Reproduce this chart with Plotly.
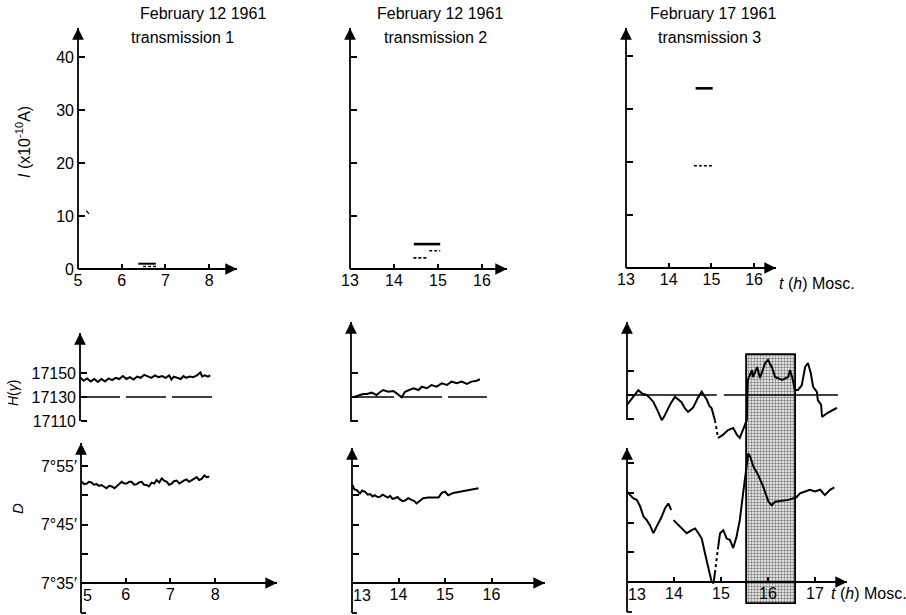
import plotly.graph_objects as go

# ---------------- data ----------------
# Row 1: current I (x10^-10 A) vs Moscow time (h)
tr1_solid_t = [6.38, 6.78]
tr1_solid_i = [1.0, 1.0]
tr1_dash_t = [6.49, 6.82]
tr1_dash_i = [0.45, 0.45]
tr1_jag_t = [6.80, 6.86, 6.92, 6.98, 7.04, 7.10, 7.16, 7.22, 7.28, 7.35]
tr1_jag_i = [0.1, -0.2, 0.1, -0.3, 0.0, -0.3, 0.0, -0.2, 0.0, -0.1]
tr1_mark_t = [5.19, 5.25]
tr1_mark_i = [11.0, 10.4]

tr2_solid_t = [14.45, 15.05]
tr2_solid_i = [4.7, 4.7]
tr2_dash_a_t = [14.80, 15.05]
tr2_dash_a_i = [3.45, 3.45]
tr2_dash_b_t = [14.44, 14.78]
tr2_dash_b_i = [2.1, 2.1]

tr3_solid_t = [14.63, 15.03]
tr3_solid_i = [33.9, 33.9]
tr3_dash_t = [14.59, 15.03]
tr3_dash_i = [19.3, 19.3]

# Row 2: horizontal component H (gamma)
h_base = 17130
h1_t = [5.00, 5.08, 5.16, 5.24, 5.32, 5.40, 5.48, 5.56, 5.64, 5.72, 5.80, 5.88, 5.96, 6.04,
        6.12, 6.20, 6.28, 6.36, 6.44, 6.52, 6.60, 6.68, 6.76, 6.84, 6.92, 7.00, 7.05, 7.10,
        7.18, 7.26, 7.32, 7.38, 7.46, 7.54, 7.62, 7.70, 7.74, 7.80, 7.87, 7.92]
h1_v = [17146.5, 17143.5, 17145.5, 17143, 17145, 17142.5, 17145, 17143, 17145.5, 17144,
        17146, 17145, 17147.5, 17145, 17146.5, 17144.5, 17147, 17146, 17148.5, 17147,
        17146, 17148, 17146.5, 17147.5, 17146, 17148, 17144.5, 17147, 17146, 17145,
        17147.5, 17146, 17147, 17146.5, 17148, 17150.5, 17147, 17148, 17147, 17148]
h1_base_t = [5.0, 8.0]

h2_t = [13.03, 13.10, 13.17, 13.25, 13.32, 13.42, 13.53, 13.60, 13.67, 13.78, 13.89, 13.96,
        14.07, 14.14, 14.25, 14.32, 14.43, 14.50, 14.61, 14.71, 14.82, 14.93, 15.04, 15.14,
        15.25, 15.36, 15.47, 15.57, 15.68, 15.75]
h2_v = [17129.8, 17131.0, 17131.7, 17132.5, 17132.5, 17133.6, 17131.7, 17134.0, 17135.8,
        17134.4, 17135.0, 17133.0, 17129.8, 17134.4, 17135.8, 17137.3, 17135.8, 17138.6,
        17137.3, 17140.0, 17138.6, 17141.4, 17140.0, 17142.8, 17141.4, 17142.8, 17141.0,
        17142.8, 17143.6, 17144.8]
h2_base_t = [13.0, 15.9]

h3a_t = [13.00, 13.10, 13.24, 13.33, 13.42, 13.50, 13.56, 13.65, 13.74, 13.79, 13.84, 13.93,
         14.02, 14.09, 14.16, 14.23, 14.30, 14.36, 14.41, 14.50, 14.59, 14.65, 14.70, 14.75,
         14.80, 14.87]
h3a_v = [17121.7, 17127, 17134, 17131, 17130, 17127, 17124.4, 17117, 17109, 17112, 17116,
         17123, 17128.6, 17126, 17124, 17119, 17116, 17118, 17119.7, 17127, 17132.8, 17129,
         17126, 17121, 17119, 17109]
h3d_t = [14.87, 14.94]
h3d_v = [17109, 17094]
h3b_t = [14.94, 15.04, 15.15, 15.26, 15.34, 15.40, 15.49, 15.55, 15.56, 15.57, 15.66, 15.68,
         15.77, 15.83, 15.94, 16.00, 16.09, 16.15, 16.30, 16.43, 16.47, 16.53, 16.57, 16.64,
         16.72, 16.79, 16.85, 16.91, 16.96, 17.04, 17.06, 17.13, 17.15, 17.26, 17.38, 17.47]
h3b_v = [17094.2, 17096.7, 17100.8, 17102.5, 17096.7, 17094.2, 17103.3, 17109.2, 17131.7,
         17142.5, 17150.8, 17145, 17153.3, 17144.2, 17156.7, 17159.2, 17152.5, 17145,
         17142.5, 17145, 17150.8, 17142.5, 17134.2, 17134.2, 17138.3, 17153.3, 17156.7,
         17148.3, 17136.7, 17132.5, 17125.8, 17121.7, 17111.7, 17115, 17117.5, 17119.2]
h3_base_t = [13.0, 14.91, None, 15.06, 17.49]

# Row 3: declination D (minutes above 7 degrees)
d1_t = [5.02, 5.07, 5.13, 5.18, 5.24, 5.29, 5.35, 5.40, 5.46, 5.52, 5.57, 5.63, 5.69, 5.75,
        5.80, 5.86, 5.91, 5.97, 6.02, 6.08, 6.13, 6.19, 6.25, 6.30, 6.36, 6.41, 6.47, 6.52,
        6.58, 6.64, 6.69, 6.75, 6.81, 6.86, 6.92, 6.97, 7.03, 7.08, 7.14, 7.20, 7.25, 7.30,
        7.36, 7.42, 7.48, 7.53, 7.59, 7.64, 7.70, 7.76, 7.81, 7.87]
d1_v = [52.3, 51.9, 52.0, 52.3, 52.15, 51.8, 51.9, 51.6, 51.75, 51.4, 51.2, 51.6, 51.5, 51.2,
        51.5, 51.9, 52.3, 52.0, 52.0, 52.3, 52.3, 51.8, 51.9, 52.2, 52.3, 51.8, 51.75, 51.5,
        52.15, 52.0, 52.6, 52.2, 52.9, 52.5, 52.3, 51.8, 52.0, 52.4, 52.5, 52.0, 52.3, 52.5,
        52.7, 52.3, 52.6, 52.8, 53.1, 52.6, 52.8, 53.4, 53.1, 53.2]

d2_t = [13.01, 13.05, 13.10, 13.17, 13.22, 13.28, 13.34, 13.39, 13.44, 13.49, 13.55, 13.60,
        13.66, 13.71, 13.77, 13.82, 13.87, 13.92, 13.98, 14.03, 14.09, 14.14, 14.21, 14.28,
        14.34, 14.39, 14.46, 14.53, 14.64, 14.75, 14.86, 14.93, 15.00, 15.07, 15.18, 15.32,
        15.47, 15.61, 15.72]
d2_v = [51.75, 51.0, 50.9, 50.3, 50.8, 50.6, 50.1, 50.2, 49.8, 50.0, 49.7, 49.75, 50.1, 49.9,
        49.6, 49.9, 49.4, 49.5, 49.7, 49.3, 49.0, 49.1, 49.5, 49.2, 49.0, 48.6, 49.1, 49.5,
        49.6, 49.6, 49.6, 50.4, 50.6, 50.0, 50.4, 50.6, 50.8, 51.0, 51.2]

d3a_t = [13.00, 13.13, 13.21, 13.28, 13.35, 13.42, 13.49, 13.56, 13.63, 13.74, 13.81, 13.88, 13.94]
d3a_v = [50.2, 49.1, 48.8, 47.7, 46.0, 45.4, 44.5, 43.2, 44.3, 46.0, 47.4, 48.2, 47.1]
d3b_t = [13.99, 14.09, 14.20, 14.27, 14.38, 14.45, 14.52, 14.59, 14.66, 14.73, 14.80, 14.84, 14.87]
d3b_v = [45.4, 44.6, 43.7, 43.2, 43.7, 44.0, 43.2, 42.3, 39.8, 37.6, 35.05, 34.8, 36.5]
d3d_t = [14.87, 14.94]
d3d_v = [36.5, 40.9]
d3c_t = [14.94, 14.98, 15.05, 15.12, 15.19, 15.26, 15.33, 15.40, 15.47, 15.55, 15.58, 15.62,
         15.69, 15.79, 15.90, 16.01, 16.08, 16.15, 16.29, 16.43, 16.60, 16.68, 16.79, 16.89,
         17.00, 17.11, 17.21, 17.32, 17.41]
d3c_v = [40.9, 43.2, 43.7, 42.3, 42.1, 40.7, 42.6, 45.4, 49.9, 55.5, 56.6, 56.1, 54.4, 53.0,
         51.0, 48.5, 47.9, 48.5, 48.7, 48.8, 49.2, 49.9, 50.2, 50.5, 50.2, 50.5, 49.6, 50.5, 50.9]

shade_t = [15.55, 16.60]   # shaded interval, Feb 17

# tick values / labels
i_ticks = [0, 10, 20, 30, 40]
h_ticks = [17110, 17130, 17150]
d_ticks = [35, 40, 45, 50, 55]
d_labels = ["7°35′", "", "7°45′", "", "7°55′"]
t_ticks_1 = [5, 6, 7, 8]
t_ticks_2 = [13, 14, 15, 16]
t_ticks_3 = [13, 14, 15, 16, 17]

titles = [("February 12 1961", "transmission 1"),
          ("February 12 1961", "transmission 2"),
          ("February 17 1961", "transmission 3")]

for a, b in [(h1_t, h1_v), (h2_t, h2_v), (h3a_t, h3a_v), (h3b_t, h3b_v), (d1_t, d1_v),
             (d2_t, d2_v), (d3a_t, d3a_v), (d3b_t, d3b_v), (d3c_t, d3c_v)]:
    assert len(a) == len(b)

# ---------------- layout helpers ----------------
W, H = 906, 615
FONT = "Liberation Sans, Arial, sans-serif"
TF = dict(family=FONT, size=16, color="black")
LW = 2.0
AXW = 1.8


def fx(px):
    return px / W


def fy(py):
    return 1 - py / H


layout_axes = {}
shapes = []
annotations = []


def arrow(px, py, direction):
    ax, ay = (0, 13) if direction == "up" else (-13, 0)
    annotations.append(dict(x=fx(px), y=fy(py), xref="paper", yref="paper", text="",
                            showarrow=True, ax=ax, ay=ay, arrowhead=2, arrowsize=1.3,
                            arrowwidth=AXW, arrowcolor="black"))


def text(px, py, s, size=16, angle=0, xanchor="center"):
    annotations.append(dict(x=fx(px), y=fy(py), xref="paper", yref="paper", text=s,
                            showarrow=False, textangle=angle, xanchor=xanchor,
                            yanchor="middle", font=dict(family=FONT, size=size, color="black")))


def vline(px, py0, py1):
    shapes.append(dict(type="line", xref="paper", yref="paper", x0=fx(px), x1=fx(px),
                       y0=fy(py0), y1=fy(py1), line=dict(color="black", width=AXW)))


def hline(px0, px1, py):
    shapes.append(dict(type="line", xref="paper", yref="paper", x0=fx(px0), x1=fx(px1),
                       y0=fy(py), y1=fy(py), line=dict(color="black", width=AXW)))


def setup(n, xm, ym, box, x_axis_py=None, x_tip=None, y_axis_px=None, y_top=None,
          y_bottom=None, xt=None, yt=None, ytext=None, ylab=False, ext=None, first_shift=0):
    px0, t0, sx = xm
    py0, v0, sy = ym
    L, R, T, B = box
    tx = lambda p: t0 + (p - px0) / sx
    vy = lambda p: v0 + (py0 - p) / sy
    xa = dict(domain=[fx(L), fx(R)], range=[tx(L), tx(R)], showgrid=False, zeroline=False,
              showline=False, fixedrange=True)
    if x_axis_py is None:
        xa.update(visible=False)
    else:
        labels = [str(v) for v in xt]
        if first_shift:
            # first label sits to the right of the downward-extended y axis
            text(px0 + (xt[0] - t0) * sx + first_shift, x_axis_py + 12, labels[0])
            labels[0] = ""
        xa.update(anchor="free", position=fy(x_axis_py), side="bottom", ticks="inside",
                  ticklen=5, tickwidth=AXW, tickcolor="black", tickvals=xt,
                  ticktext=labels, tickfont=TF)
        hline(L if y_axis_px is None else y_axis_px, x_tip, x_axis_py)
        arrow(x_tip, x_axis_py, "right")
    ya = dict(domain=[fy(B), fy(T)], range=[vy(B), vy(T)], showgrid=False, zeroline=False,
              showline=False, fixedrange=True, anchor="free", position=fx(y_axis_px),
              side="left", ticks="inside", ticklen=6, tickwidth=AXW, tickcolor="black",
              tickvals=yt, tickfont=TF, ticklabelstandoff=4)
    if ylab:
        ya.update(ticktext=ytext if ytext else [str(v) for v in yt])
    else:
        ya.update(showticklabels=False)
    vline(y_axis_px, y_bottom, y_top)
    arrow(y_axis_px, y_top, "up")
    if ext is not None:
        hline(y_axis_px, y_axis_px + 5, ext)
    key = "" if n == 1 else str(n)
    layout_axes["xaxis" + key] = xa
    layout_axes["yaxis" + key] = ya
    return "x" + key, "y" + key


fig = go.Figure()


def line(ax, t, v, dash="solid", width=LW):
    fig.add_trace(go.Scatter(x=t, y=v, xaxis=ax[0], yaxis=ax[1], mode="lines",
                             line=dict(color="black", width=width, dash=dash),
                             hoverinfo="skip", showlegend=False, connectgaps=False))


# shaded interval subplot (drawn first, below all others)
I_XM = (627, 13, 47.0)
I_BOX = (627, 850, 446, 590)
S_BOX_T, S_BOX_B = 345, 612
s_top, s_bot = 355, 604
layout_axes["xaxis"] = dict(domain=[fx(I_BOX[0]), fx(I_BOX[1])],
                            range=[I_XM[1] + (I_BOX[0] - I_XM[0]) / I_XM[2],
                                   I_XM[1] + (I_BOX[1] - I_XM[0]) / I_XM[2]],
                            visible=False, fixedrange=True)
sy_s = s_bot - s_top
layout_axes["yaxis"] = dict(domain=[fy(S_BOX_B), fy(S_BOX_T)],
                            range=[(s_bot - S_BOX_B) / sy_s, (s_bot - S_BOX_T) / sy_s],
                            visible=False, fixedrange=True)
fig.add_trace(go.Bar(x=[(shade_t[0] + shade_t[1]) / 2], y=[1], base=[0],
                     width=[shade_t[1] - shade_t[0]], xaxis="x", yaxis="y",
                     marker=dict(color="white", line=dict(color="black", width=1.8),
                                 pattern=dict(shape=".", fgcolor="black", bgcolor="white",
                                              size=3, solidity=0.5)),
                     hoverinfo="skip", showlegend=False))

# --- Row 1 ---
A = setup(2, (78, 5, 43.7), (269, 0, 5.3), (78, 240, 22, 269), x_axis_py=269, x_tip=237,
          y_axis_px=78, y_top=28, y_bottom=269, xt=t_ticks_1, yt=i_ticks, ylab=True)
B = setup(3, (350, 13, 44.0), (269, 0, 5.3), (350, 510, 22, 269), x_axis_py=269, x_tip=507,
          y_axis_px=350, y_top=28, y_bottom=269, xt=t_ticks_2, yt=i_ticks[1:])
C = setup(4, (626, 13, 42.7), (268, 0, 5.3), (626, 780, 22, 268), x_axis_py=268, x_tip=776,
          y_axis_px=626, y_top=28, y_bottom=268, xt=t_ticks_2, yt=i_ticks[1:])

line(A, tr1_solid_t, tr1_solid_i)
line(A, tr1_dash_t, tr1_dash_i, dash="3px,2px", width=1.5)
line(A, tr1_jag_t, tr1_jag_i, width=1.5)
line(A, tr1_mark_t, tr1_mark_i, width=1.2)
line(B, tr2_solid_t, tr2_solid_i, width=2.6)
line(B, tr2_dash_a_t, tr2_dash_a_i, dash="3px,2px", width=1.6)
line(B, tr2_dash_b_t, tr2_dash_b_i, dash="3px,2px", width=1.6)
line(C, tr3_solid_t, tr3_solid_i, width=2.6)
line(C, tr3_dash_t, tr3_dash_i, dash="3px,2px", width=1.6)

# --- Row 2 ---
Dp = setup(5, (80, 5, 44.6), (397, h_base, 1.2), (80, 230, 328, 425), y_axis_px=80,
           y_top=333, y_bottom=421, yt=h_ticks, ylab=True)
Ep = setup(6, (352, 13, 46.5), (397, h_base, 1.2), (352, 500, 318, 425), y_axis_px=351,
           y_top=322, y_bottom=422, yt=h_ticks)
Fp = setup(7, I_XM, (395, h_base, 1.2), (627, 850, 318, 446), y_axis_px=627,
           y_top=322, y_bottom=420, yt=h_ticks)

line(Dp, h1_base_t, [h_base] * len(h1_base_t), dash="40px,6px", width=1.5)
line(Dp, h1_t, h1_v)
line(Ep, h2_base_t, [h_base] * len(h2_base_t), dash="42px,6px", width=1.5)
line(Ep, h2_t, h2_v)
line(Fp, h3_base_t, [None if t is None else h_base for t in h3_base_t], width=1.5)
line(Fp, h3a_t, h3a_v)
line(Fp, h3d_t, h3d_v, dash="3px,3px")
line(Fp, h3b_t, h3b_v)

# --- Row 3 ---
G = setup(8, (81, 5, 44.7), (583, 35, 5.85), (81, 280, 440, 590), x_axis_py=583, x_tip=277,
          y_axis_px=81, y_top=443, y_bottom=613, ext=613, xt=t_ticks_1, first_shift=6,
          yt=d_ticks, ytext=d_labels, ylab=True)
Hp = setup(9, (352, 13, 46.5), (583, 35, 5.85), (352, 548, 444, 590), x_axis_py=583,
           x_tip=545, y_axis_px=352, y_top=448, y_bottom=613, ext=613, xt=t_ticks_2,
           first_shift=10, yt=d_ticks[1:])
Ip = setup(10, I_XM, (582, 35, 5.95), I_BOX, x_axis_py=582, x_tip=847, y_axis_px=627,
           y_top=448, y_bottom=612, ext=612, xt=t_ticks_3, first_shift=10, yt=d_ticks[1:])

line(G, d1_t, d1_v)
line(Hp, d2_t, d2_v)
line(Ip, d3a_t, d3a_v)
line(Ip, d3b_t, d3b_v)
line(Ip, d3d_t, d3d_v, dash="3px,3px")
line(Ip, d3c_t, d3c_v)

# ---------------- texts ----------------
title_pos = [((203, 14), (182, 38)), ((440, 14), (435, 38)), ((713, 14), (709, 38))]
for (t1, t2), (p1, p2) in zip(titles, title_pos):
    text(p1[0], p1[1], t1, size=16)
    text(p2[0], p2[1], t2, size=16)

text(23, 142, "<i>I</i> (x10<sup>-10</sup>A)", size=16, angle=-90)
text(13, 393, "<i>H</i>(<i>γ</i>)", size=14, angle=-90)
text(17, 509, "<i>D</i>", size=15, angle=-90)
text(777, 283, "<i>t</i> (<i>h</i>) Mosc.", size=16, xanchor="left")
text(829, 593, "<i>t</i> (<i>h</i>) Mosc.", size=16, xanchor="left")

fig.update_layout(width=W, height=H, margin=dict(l=0, r=0, t=0, b=0, pad=0, autoexpand=False),
                  paper_bgcolor="white", plot_bgcolor="rgba(0,0,0,0)",
                  showlegend=False, shapes=shapes, annotations=annotations,
                  bargap=0, **layout_axes)

fig.write_html("out.html", config={"displayModeBar": False},
               post_script="document.body.style.margin='0';")
